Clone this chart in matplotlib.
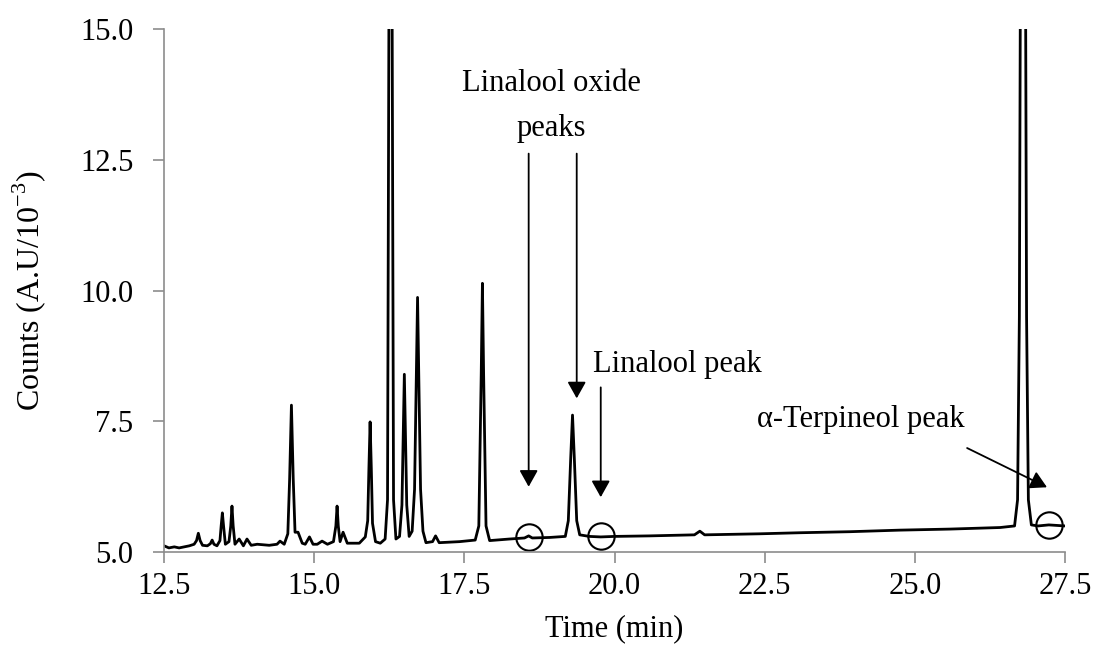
import matplotlib
matplotlib.use("Agg")
import matplotlib.pyplot as plt

# chromatogram trace (time in min, counts in A.U/10^-3)
time_min = [12.50, 12.58, 12.67, 12.75, 12.92, 13.00, 13.04, 13.07, 13.10, 13.14,
            13.22, 13.27, 13.30, 13.33, 13.38, 13.43, 13.45, 13.47, 13.49, 13.52,
            13.58, 13.61, 13.63, 13.65, 13.68, 13.75, 13.82, 13.88, 13.95, 14.05,
            14.25, 14.38, 14.43, 14.50, 14.56, 14.59, 14.62, 14.65, 14.68, 14.73,
            14.80, 14.85, 14.92, 14.98, 15.05, 15.13, 15.22, 15.32, 15.36, 15.38,
            15.40, 15.43, 15.48, 15.55, 15.75, 15.85, 15.89, 15.91, 15.93, 15.95,
            15.97, 16.02, 16.10, 16.18, 16.22, 16.245, 16.27, 16.295, 16.32, 16.36,
            16.42, 16.46, 16.48, 16.50, 16.52, 16.54, 16.58, 16.63, 16.67, 16.70,
            16.72, 16.74, 16.77, 16.81, 16.86, 16.97, 17.02, 17.08, 17.42, 17.68,
            17.74, 17.78, 17.80, 17.82, 17.86, 17.92, 18.25, 18.50, 18.57, 18.63,
            18.92, 19.18, 19.23, 19.27, 19.30, 19.33, 19.37, 19.42, 19.58, 19.77,
            20.00, 20.58, 21.33, 21.42, 21.50, 22.42, 23.08, 23.92, 24.75, 25.58,
            26.42, 26.66, 26.71, 26.74, 26.76, 26.80, 26.84, 26.86, 26.89, 26.94,
            27.05, 27.23, 27.50]
counts = [5.12, 5.08, 5.10, 5.08, 5.12, 5.15, 5.22, 5.36, 5.22, 5.13,
          5.12, 5.16, 5.23, 5.15, 5.12, 5.22, 5.50, 5.75, 5.50, 5.15,
          5.20, 5.50, 5.88, 5.50, 5.15, 5.25, 5.12, 5.25, 5.13, 5.15,
          5.13, 5.15, 5.21, 5.15, 5.35, 6.40, 7.81, 6.40, 5.38, 5.38,
          5.17, 5.15, 5.29, 5.15, 5.15, 5.21, 5.15, 5.20, 5.50, 5.88,
          5.50, 5.20, 5.38, 5.17, 5.17, 5.29, 5.60, 6.60, 7.49, 6.60,
          5.55, 5.20, 5.17, 5.25, 6.00, 16.0, 22.0, 16.0, 6.00, 5.25,
          5.30, 5.90, 7.20, 8.40, 7.20, 5.90, 5.30, 5.40, 6.20, 8.40,
          9.87, 8.40, 6.20, 5.40, 5.18, 5.20, 5.31, 5.18, 5.20, 5.23,
          5.50, 8.40, 10.14, 8.40, 5.50, 5.22, 5.25, 5.27, 5.31, 5.27,
          5.28, 5.30, 5.60, 6.80, 7.62, 6.80, 5.60, 5.33, 5.30, 5.29,
          5.30, 5.31, 5.33, 5.40, 5.33, 5.35, 5.37, 5.39, 5.42, 5.44,
          5.47, 5.50, 6.00, 9.50, 17.0, 24.0, 17.0, 9.50, 6.00, 5.52,
          5.50, 5.52, 5.50]

# circled positions (time, counts)
circle_time = [18.57, 19.77, 27.23]
circle_counts = [5.29, 5.30, 5.52]

# annotations: label, text position, arrow starts and tips
oxide_label = "Linalool oxide\npeaks"
oxide_text_pos = (18.95, 13.53)
oxide_arrows = [((18.57, 12.62), (18.57, 6.25)), ((19.37, 12.62), (19.37, 7.94))]
linalool_label = "Linalool peak"
linalool_text_pos = (21.05, 8.58)
linalool_arrow = ((19.77, 8.15), (19.77, 6.05))
terp_label = "\u03b1-Terpineol peak"
terp_text_pos = (24.10, 7.54)
terp_arrow = ((25.87, 6.99), (27.20, 6.24))

x_ticks = [12.5, 15.0, 17.5, 20.0, 22.5, 25.0, 27.5]
y_ticks = [5.0, 7.5, 10.0, 12.5, 15.0]

plt.rcParams['font.family'] = ['Liberation Serif', 'DejaVu Serif']
plt.rcParams['mathtext.fontset'] = 'custom'
plt.rcParams['mathtext.rm'] = 'Liberation Serif'
plt.rcParams['font.size'] = 22

fig = plt.figure(figsize=(10.94, 6.48), dpi=100)
ax = fig.add_axes([0.150, 0.148, 0.8235, 0.807])

ax.plot(time_min, counts, color='black', lw=2.0, solid_joinstyle='round')
ax.plot(circle_time, circle_counts, 'o', ms=19, mfc='none', mec='black', mew=1.5,
        clip_on=False)

arrow_kw = dict(arrowstyle='-|>,head_length=0.5,head_width=0.28', color='black',
                lw=1.3, mutation_scale=20, shrinkA=0, shrinkB=0)
for start, tip in oxide_arrows:
    ax.annotate('', xy=tip, xytext=start, arrowprops=arrow_kw)
ax.annotate('', xy=linalool_arrow[1], xytext=linalool_arrow[0], arrowprops=arrow_kw)
ax.annotate('', xy=terp_arrow[1], xytext=terp_arrow[0], arrowprops=arrow_kw)

ax.text(*oxide_text_pos, oxide_label, ha='center', va='center', linespacing=1.7)
ax.text(*linalool_text_pos, linalool_label, ha='center', va='center')
ax.text(*terp_text_pos, terp_label, ha='center', va='center')

ax.set_xlim(12.5, 27.5)
ax.set_ylim(5.0, 15.0)
ax.set_xticks(x_ticks)
ax.set_yticks(y_ticks)
ax.set_xticklabels([f"{v:.1f}" for v in x_ticks])
ax.set_yticklabels([f"{v:.1f}" for v in y_ticks])
ax.set_xlabel("Time (min)", labelpad=10)
ax.set_ylabel("Counts (A.U/10$^{\\mathregular{-3}}$)", labelpad=23, fontsize=23)

for side in ['top', 'right']:
    ax.spines[side].set_visible(False)
for side in ['left', 'bottom']:
    ax.spines[side].set_color('#8c8c8c')
    ax.spines[side].set_linewidth(1.2)
ax.tick_params(direction='out', length=8, width=1.2, color='#8c8c8c')
ax.tick_params(axis='y', pad=14)
ax.tick_params(axis='x', pad=6)

fig.savefig("out.png", dpi=100)
